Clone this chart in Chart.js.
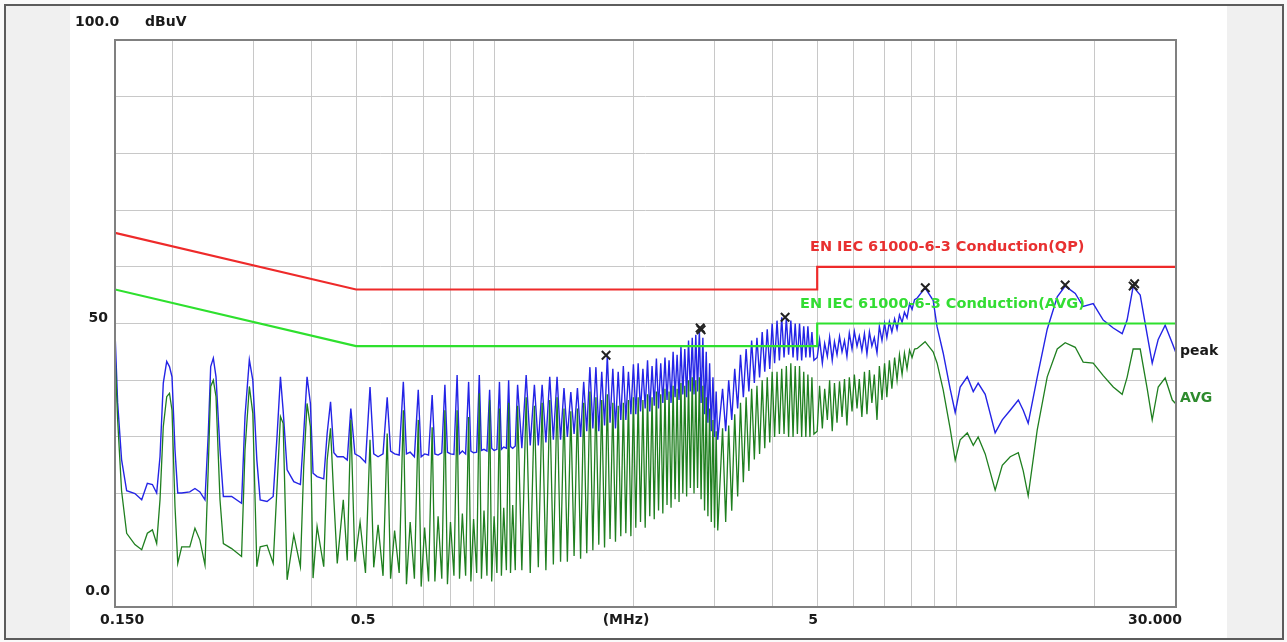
<!DOCTYPE html>
<html>
<head>
<meta charset="utf-8">
<title>Conducted emission</title>
<script src="https://cdn.jsdelivr.net/npm/chart.js@4.4.1/dist/chart.umd.min.js"></script>
<style>
    body { margin: 0; background: #fafafa; }
    #frame { position: absolute; left: 4px; top: 4px; width: 1276px; height: 632px; border: 2px solid #5c5c5c; background: #f0f0f0; }
    #panel { position: absolute; left: 70px; top: 6px; width: 1157px; height: 632px; background: #ffffff; }
    #emi { position: absolute; left: 0; top: 0; }
</style>
</head>
<body>
<div id="frame"></div>
<div id="panel"></div>
<canvas id="emi" width="1287" height="642"></canvas>
<script>

// --- data (MHz / dBuV) --- //

// 0.15 - 0.53 MHz : first harmonics, one by one
const freqBand1 = [
    0.150, 0.152, 0.155, 0.159, 0.1657, 0.1714, 0.1763, 0.1808, 0.1847, 0.1878,
    0.1909, 0.1942, 0.1969, 0.1994, 0.2024, 0.2052, 0.2093, 0.2179, 0.2236, 0.2292,
    0.2351, 0.2390, 0.2419, 0.2451, 0.2484, 0.2534, 0.2577, 0.2686, 0.2822, 0.2871,
    0.2934, 0.2985, 0.3046, 0.3097, 0.3205, 0.3305, 0.3372, 0.3427, 0.3473, 0.3543,
    0.3663, 0.3786, 0.3849, 0.3914, 0.3980, 0.4033, 0.4115, 0.4254, 0.4327, 0.4401,
    0.4475, 0.4551, 0.4690, 0.4784, 0.4870, 0.497, 0.510, 0.524
];
const peakBand1 = [
    48.5, 36.0, 26.0, 20.5, 20.0, 18.9, 21.8, 21.6, 20.1, 26.5,
    39.5, 43.3, 42.4, 40.6, 27.7, 20.1, 20.1, 20.3, 20.9, 20.3,
    18.9, 30.6, 42.4, 43.9, 40.6, 27.7, 19.5, 19.5, 18.3, 33.6,
    43.6, 40.0, 25.9, 18.9, 18.6, 19.5, 30.6, 40.6, 34.7, 24.2,
    22.1, 21.6, 30.6, 40.6, 35.9, 23.6, 23.0, 22.6, 30.6, 36.2,
    27.2, 26.5, 26.5, 25.9, 35.0, 27.0, 26.5, 25.5
];
const avgBand1 = [
    45.0, 33.0, 20.5, 13.0, 11.0, 10.1, 13.0, 13.6, 11.2, 18.9,
    31.8, 37.1, 37.7, 34.7, 17.7, 7.7, 10.6, 10.6, 13.9, 11.8,
    7.4, 24.7, 38.9, 40.0, 37.1, 18.9, 11.2, 10.3, 8.9, 27.7,
    38.9, 34.2, 7.1, 10.6, 10.9, 7.7, 21.8, 33.6, 32.4, 4.8,
    12.7, 7.1, 24.7, 35.9, 31.8, 5.1, 14.2, 7.1, 25.9, 31.5,
    18.9, 7.7, 18.9, 8.2, 33.0, 8.0, 15.0, 6.0
];

// 0.53 - 1.11 MHz : peak, dip, shoulder, dip for every harmonic
const freqBand2 = [
    0.536, 0.546, 0.558, 0.572,  0.584, 0.594, 0.606, 0.620,
    0.633, 0.643, 0.655, 0.669,  0.682, 0.692, 0.704, 0.718,
    0.731, 0.741, 0.753, 0.767,  0.779, 0.789, 0.801, 0.815,
    0.828, 0.838, 0.850, 0.864,  0.877, 0.887, 0.899, 0.913,
    0.925, 0.935, 0.947, 0.961,  0.974, 0.984, 0.996, 1.010,
    1.023, 1.033, 1.045, 1.059,  1.071, 1.081, 1.093, 1.107
];
const peakBand2 = [
    38.8, 27.0, 26.5, 27.0,  37.0, 27.5, 27.0, 26.8,
    39.7, 27.0, 27.3, 26.5,  38.3, 26.5, 27.0, 26.8,
    37.4, 27.0, 26.8, 27.2,  39.2, 27.3, 27.0, 26.9,
    40.9, 27.0, 27.5, 27.0,  39.7, 27.5, 27.2, 27.3,
    40.9, 27.6, 27.8, 27.5,  38.3, 28.0, 27.6, 27.8,
    39.7, 27.8, 28.2, 28.0,  40.0, 28.3, 28.0, 28.4
];
const avgBand2 = [
    29.5, 7.0, 14.5, 5.5,  30.6, 5.0, 13.5, 6.0,
    34.7, 4.0, 15.0, 5.0,  33.0, 3.6, 14.0, 4.5,
    31.7, 4.5, 16.0, 5.0,  34.7, 4.0, 15.0, 5.5,
    34.7, 5.0, 16.5, 5.5,  33.5, 4.5, 15.5, 6.0,
    37.7, 5.0, 17.0, 5.5,  36.5, 4.5, 16.0, 6.0,
    35.0, 5.5, 17.5, 6.5,  36.0, 6.0, 18.0, 6.5
];

// 1.12 - 4.92 MHz : dense comb, peak then dip
const freqBand3 = [
    1.120, 1.144, 1.169, 1.193, 1.218, 1.242, 1.266, 1.290, 1.315, 1.339,
    1.364, 1.388, 1.412, 1.436, 1.461, 1.485, 1.510, 1.534, 1.558, 1.582,
    1.607, 1.631, 1.656, 1.680, 1.705, 1.729, 1.753, 1.777, 1.802, 1.826,
    1.851, 1.875, 1.899, 1.923, 1.948, 1.972, 1.997, 2.021, 2.045, 2.069,
    2.094, 2.118, 2.143, 2.167, 2.192, 2.216, 2.240, 2.264, 2.289, 2.313,
    2.338, 2.362, 2.386, 2.410, 2.435, 2.459, 2.484, 2.508, 2.532, 2.556,
    2.581, 2.605, 2.630, 2.654, 2.679, 2.703, 2.727, 2.751, 2.776, 2.800,
    2.825, 2.849, 2.873, 2.897, 2.922, 2.946, 2.971, 2.995, 3.019, 3.043,
    3.117, 3.166, 3.214, 3.263, 3.312, 3.361, 3.409, 3.458, 3.506, 3.555,
    3.604, 3.653, 3.701, 3.750, 3.799, 3.848, 3.896, 3.945, 3.993, 4.042,
    4.091, 4.140, 4.188, 4.237, 4.286, 4.335, 4.383, 4.432, 4.480, 4.529,
    4.578, 4.627, 4.675, 4.724, 4.773, 4.822, 4.870, 4.919
];
const peakBand3 = [
    39.2, 28.0, 40.9, 28.5, 39.2, 28.5, 39.2, 29.0, 40.6, 29.5,
    40.6, 29.5, 38.6, 30.0, 37.9, 30.5, 38.6, 30.0, 39.7, 31.0,
    42.3, 31.5, 42.3, 31.0, 41.5, 32.0, 44.4, 32.5, 42.0, 31.5,
    41.5, 33.0, 42.5, 33.0, 41.5, 34.0, 42.8, 34.0, 43.0, 34.5,
    42.0, 35.0, 43.5, 34.5, 42.5, 35.5, 43.8, 35.0, 43.0, 36.0,
    44.0, 36.5, 43.5, 36.0, 45.0, 37.0, 44.5, 36.5, 46.0, 37.5,
    45.5, 37.0, 47.0, 38.0, 47.5, 37.5, 48.0, 38.0, 49.0, 36.0,
    47.5, 34.0, 45.0, 32.5, 43.0, 31.0, 40.5, 30.0, 38.0, 29.5,
    38.5, 31.0, 40.0, 33.0, 42.0, 35.0, 44.5, 37.0, 45.5, 38.0,
    47.0, 39.5, 47.5, 40.5, 48.5, 41.5, 49.0, 42.0, 50.0, 43.0,
    50.5, 43.5, 51.1, 44.0, 51.0, 44.5, 50.5, 44.0, 50.0, 43.5,
    50.0, 43.5, 49.5, 44.0, 49.5, 44.0, 48.5, 43.5
];
const avgBand3 = [
    35.5, 6.5, 37.0, 6.0, 35.5, 7.0, 36.0, 6.5, 36.5, 7.5,
    37.0, 8.0, 35.0, 8.0, 34.5, 9.0, 35.0, 8.5, 36.0, 9.5,
    38.0, 10.0, 37.0, 11.0, 36.5, 10.5, 37.5, 12.0, 36.0, 11.5,
    35.5, 12.5, 36.0, 13.0, 36.5, 12.5, 37.0, 14.0, 37.0, 15.0,
    36.5, 14.0, 37.5, 16.0, 37.0, 15.5, 38.0, 17.0, 37.5, 16.5,
    38.5, 18.0, 38.0, 17.5, 39.0, 19.0, 38.5, 18.5, 39.5, 20.0,
    39.0, 19.5, 40.0, 21.0, 40.5, 20.0, 40.0, 21.0, 40.5, 19.0,
    39.0, 17.0, 37.0, 16.0, 35.0, 15.0, 33.0, 14.0, 31.0, 13.5,
    31.5, 15.0, 32.0, 17.0, 34.0, 19.5, 36.0, 22.0, 37.0, 24.0,
    38.5, 26.0, 39.0, 27.0, 40.0, 28.0, 40.5, 29.0, 41.5, 30.0,
    41.5, 30.5, 42.0, 30.5, 42.5, 30.0, 43.0, 30.0, 42.5, 30.5,
    42.5, 30.0, 41.5, 30.0, 41.0, 30.0, 40.5, 30.5
];

// 5 - 8.3 MHz : noisy band
const freqBand4 = [
    5.00, 5.06, 5.13, 5.19, 5.26, 5.32, 5.39, 5.45, 5.52, 5.59,
    5.66, 5.73, 5.80, 5.87, 5.95, 6.02, 6.10, 6.17, 6.25, 6.33,
    6.41, 6.49, 6.57, 6.65, 6.74, 6.82, 6.91, 7.00, 7.08, 7.17,
    7.26, 7.36, 7.45, 7.54, 7.64, 7.73, 7.83, 7.93, 8.03, 8.13,
    8.24
];
const peakBand4 = [
    44.0, 47.2, 43.0, 46.5, 44.2, 47.6, 43.5, 46.8, 44.5, 47.7,
    45.0, 47.0, 44.2, 48.3, 45.5, 48.6, 46.0, 47.8, 45.2, 48.2,
    44.6, 48.5, 46.0, 47.5, 44.8, 49.5, 47.0, 50.0, 47.5, 50.3,
    48.5, 50.8, 49.0, 51.5, 50.2, 52.0, 51.0, 53.5, 52.5, 54.2,
    54.5
];
const avgBand4 = [
    31.0, 39.0, 31.5, 38.5, 33.0, 40.0, 31.0, 39.5, 32.5, 39.8,
    33.5, 40.2, 32.0, 40.5, 34.5, 41.0, 35.0, 40.2, 33.5, 41.5,
    34.0, 41.8, 36.0, 41.0, 33.0, 42.5, 36.5, 43.0, 37.0, 43.5,
    38.5, 44.0, 40.0, 44.5, 41.0, 44.8, 42.0, 45.3, 44.0, 45.5,
    45.6
];

// 8.5 - 30 MHz : broad humps
const freqBand5 = [
    8.57, 8.92, 9.10, 9.38, 9.71, 9.96, 10.21, 10.58, 10.90,
    11.17, 11.57, 12.16, 12.60, 13.11, 13.65, 13.99, 14.34, 15.00, 15.77,
    16.58, 17.25, 18.14, 18.87, 19.84, 20.86, 21.93, 22.93, 23.50, 24.22,
    25.09, 25.98, 26.64, 27.45, 28.42, 29.45, 30.00
];
const peakBand5 = [
    56.3, 54.1, 49.4, 44.8, 38.5, 34.3, 38.8, 40.6, 38.0,
    39.5, 37.5, 30.7, 33.0, 34.7, 36.5, 34.7, 32.4, 40.5, 49.0,
    54.7, 56.6, 55.3, 53.0, 53.5, 50.6, 49.2, 48.2, 50.6, 56.5,
    55.0, 48.0, 43.0, 47.2, 49.7, 46.5, 44.8
];
const avgBand5 = [
    46.8, 45.0, 43.0, 38.3, 31.5, 25.9, 29.5, 30.7, 28.5,
    30.0, 27.0, 20.6, 25.0, 26.5, 27.2, 24.0, 19.6, 31.2, 40.6,
    45.5, 46.6, 45.8, 43.2, 43.0, 40.8, 38.8, 37.5, 40.5, 45.5,
    45.5, 38.5, 33.0, 38.8, 40.4, 36.5, 35.8
];

// EN IEC 61000-6-3 limits
const qpLimitFreq = [0.15, 0.5, 5, 5, 30];
const qpLimitDb = [66, 56, 56, 60, 60];
const avgLimitFreq = [0.15, 0.5, 5, 5, 30];
const avgLimitDb = [56, 46, 46, 50, 50];

// final measurement markers
const markerFreq = [1.742, 2.787, 2.800, 4.26, 8.58, 17.25, 24.22, 24.40];
const markerDb = [44.4, 49.2, 48.9, 51.1, 56.3, 56.8, 56.6, 57.0];

// grid
const xGridMHz = [0.2, 0.3, 0.4, 0.5, 0.6, 0.7, 0.8, 0.9, 1, 2, 3, 4, 5, 6, 7, 8, 9, 10, 20];

// --- build the series --- //
const freqMHz = [...freqBand1, ...freqBand2, ...freqBand3, ...freqBand4, ...freqBand5];
const peakDb = [...peakBand1, ...peakBand2, ...peakBand3, ...peakBand4, ...peakBand5];
const avgDb = [...avgBand1, ...avgBand2, ...avgBand3, ...avgBand4, ...avgBand5];

const toPoints = (xs, ys) => xs.map((x, i) => ({ x: x, y: ys[i] }));

// --- labels, frame --- //
const labelFont = 'bold 14px "DejaVu Sans", Verdana, sans-serif';
const limitFont = 'bold 14.5px "DejaVu Sans", Verdana, sans-serif';

const labelPlugin = {
    id: 'emiLabels',
    afterDraw(chart) {
        const ctx = chart.ctx;
        const a = chart.chartArea;
        const sx = chart.scales.x;
        const sy = chart.scales.y;
        ctx.save();
        ctx.strokeStyle = '#808080';
        ctx.lineWidth = 2;
        ctx.strokeRect(a.left, a.top, a.right - a.left, a.bottom - a.top);

        ctx.font = labelFont;
        ctx.textBaseline = 'middle';
        ctx.fillStyle = '#1a1a1a';
        ctx.textAlign = 'left';
        ctx.fillText('100.0', 75, 22);
        ctx.fillText('dBuV', 145, 22);
        ctx.textAlign = 'right';
        ctx.fillText('50', 108, sy.getPixelForValue(50) - 5);
        ctx.fillText('0.0', 110, sy.getPixelForValue(0) - 16);

        const ty = 620;
        ctx.textAlign = 'left';
        ctx.fillText('0.150', 100, ty);
        ctx.textAlign = 'center';
        ctx.fillText('0.5', sx.getPixelForValue(0.5) + 7, ty);
        ctx.fillText('(MHz)', 626, ty);
        ctx.fillText('5', sx.getPixelForValue(5) - 4, ty);
        ctx.textAlign = 'right';
        ctx.fillText('30.000', 1182, ty);

        ctx.textAlign = 'left';
        ctx.fillStyle = '#1a1a1a';
        ctx.fillText('peak', 1180, 351);
        ctx.fillStyle = '#2e8b2e';
        ctx.fillText('AVG', 1180, 398);

        ctx.font = limitFont;
        ctx.fillStyle = '#e83030';
        ctx.fillText('EN IEC 61000-6-3 Conduction(QP)', 810, 247);
        ctx.fillStyle = '#33dd33';
        ctx.fillText('EN IEC 61000-6-3 Conduction(AVG)', 800, 304);
        ctx.restore();
    }
};

// --- chart --- //
const emiCanvas = document.getElementById('emi');

let emiChart = new Chart(emiCanvas, {
    type: 'line',
    data: {
        datasets: [
            {
                label: 'markers',
                data: toPoints(markerFreq, markerDb),
                showLine: false,
                pointStyle: 'crossRot',
                pointRadius: 6,
                pointBorderWidth: 2,
                pointBorderColor: '#222222',
                borderColor: '#222222'
            },
            {
                label: 'QP limit',
                data: toPoints(qpLimitFreq, qpLimitDb),
                borderColor: '#ee2a2a',
                borderWidth: 2.2
            },
            {
                label: 'AVG limit',
                data: toPoints(avgLimitFreq, avgLimitDb),
                borderColor: '#2ee02e',
                borderWidth: 2.2
            },
            {
                label: 'AVG',
                data: toPoints(freqMHz, avgDb),
                borderColor: '#1f7f1f',
                borderWidth: 1.3
            },
            {
                label: 'peak',
                data: toPoints(freqMHz, peakDb),
                borderColor: '#2424e6',
                borderWidth: 1.4
            }
        ]
    },
    options: {
        responsive: false,
        animation: false,
        layout: {
            padding: { left: 115, top: 40, right: 111, bottom: 35 }
        },
        elements: {
            point: { radius: 0 },
            line: { tension: 0, fill: false }
        },
        plugins: {
            legend: { display: false },
            tooltip: { enabled: false }
        },
        scales: {
            x: {
                type: 'logarithmic',
                min: 0.15,
                max: 30,
                afterBuildTicks: scale => {
                    scale.ticks = xGridMHz.map(v => ({ value: v }));
                },
                ticks: { display: false },
                grid: { color: '#c8c8c8', drawTicks: false },
                border: { display: false }
            },
            y: {
                min: 0,
                max: 100,
                ticks: { display: false, stepSize: 10 },
                grid: { color: '#c8c8c8', drawTicks: false },
                border: { display: false }
            }
        }
    },
    plugins: [labelPlugin]
});
</script>
</body>
</html>
